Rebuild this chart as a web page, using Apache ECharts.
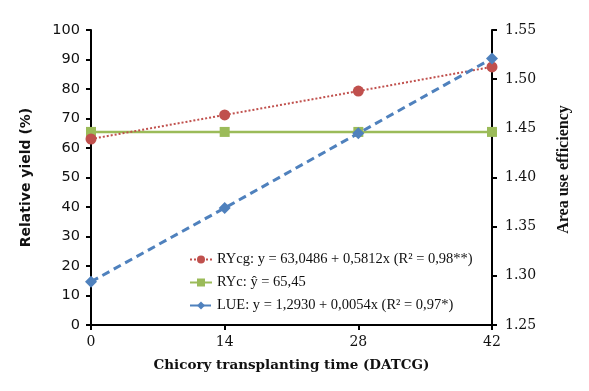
<!DOCTYPE html>
<html><head><meta charset="utf-8">
<script src="https://cdn.jsdelivr.net/npm/echarts@6/dist/echarts.min.js"></script>
<style>html,body{margin:0;padding:0;background:#fff}#c{width:589px;height:391px}</style>
</head><body><div id="c"></div>
<script>
const days = [0, 14, 28, 42];
const ryCg = [63.05, 71.2, 79.3, 87.5];
const ryC = [65.45, 65.45, 65.45, 65.45];
const lue = [1.294, 1.369, 1.445, 1.521];
const names = ['RYcg: y = 63,0486 + 0,5812x (R² = 0,98**)', 'RYc: ŷ = 65,45', 'LUE: y = 1,2930 + 0,0054x (R² = 0,97*)'];
const serif = 'DejaVu Serif';
const times = 'Liberation Serif';
const sans = 'DejaVu Sans';
const chart = echarts.init(document.getElementById('c'));
chart.setOption({
  animation: false,
  grid: {left: 91, right: 97, top: 30, bottom: 66},
  legend: {
    orient: 'vertical', left: 184, top: 247, itemGap: 8, itemWidth: 22, itemHeight: 10,
    textStyle: {fontFamily: times, fontSize: 14.5, color: '#111'},
    data: names
  },
  xAxis: {
    type: 'value', min: 0, max: 42, interval: 14,
    name: 'Chicory transplanting time (DATCG)', nameLocation: 'middle', nameGap: 33,
    nameTextStyle: {fontFamily: serif, fontSize: 13.5, fontWeight: 'bold', color: '#111'},
    axisLine: {lineStyle: {color: '#000', width: 2}},
    axisTick: {show: true, length: 5, lineStyle: {color: '#000', width: 2}},
    axisLabel: {fontFamily: serif, fontSize: 14, color: '#111', margin: 10},
    splitLine: {show: false}
  },
  yAxis: [{
    type: 'value', min: 0, max: 100, interval: 10,
    name: 'Relative yield (%)', nameLocation: 'middle', nameGap: 58, nameRotate: 90,
    nameTextStyle: {fontFamily: sans, fontSize: 14, fontWeight: 'bold', color: '#111'},
    axisLine: {show: true, lineStyle: {color: '#000', width: 2}},
    axisTick: {show: true, length: 5, lineStyle: {color: '#000', width: 2}},
    axisLabel: {fontFamily: sans, fontSize: 14.5, color: '#111', margin: 11},
    splitLine: {show: false}
  }, {
    type: 'value', min: 1.25, max: 1.55, interval: 0.05, position: 'right',
    name: 'Area use efficiency', nameLocation: 'middle', nameGap: 64, nameRotate: 90,
    nameTextStyle: {fontFamily: times, fontSize: 16, fontWeight: 'bold', color: '#111', padding: [0, 0, 0, 16]},
    axisLine: {show: true, lineStyle: {color: '#000', width: 2}},
    axisTick: {show: true, length: 5, lineStyle: {color: '#000', width: 2}},
    axisLabel: {fontFamily: serif, fontSize: 14, color: '#111', margin: 13, formatter: v => v.toFixed(2)},
    splitLine: {show: false}
  }],
  series: [{
    name: names[0], type: 'line', yAxisIndex: 0,
    data: days.map((d, i) => [d, ryCg[i]]),
    symbol: 'circle', symbolSize: 11,
    itemStyle: {color: '#C0504D'},
    lineStyle: {color: '#C0504D', width: 2, type: 'dotted'}, z: 4
  }, {
    name: names[1], type: 'line', yAxisIndex: 0,
    data: days.map((d, i) => [d, ryC[i]]),
    symbol: 'rect', symbolSize: 10,
    itemStyle: {color: '#9BBB59'},
    lineStyle: {color: '#9BBB59', width: 2.5}, z: 3
  }, {
    name: names[2], type: 'line', yAxisIndex: 1,
    data: days.map((d, i) => [d, lue[i]]),
    symbol: 'diamond', symbolSize: 12,
    itemStyle: {color: '#4F81BD'},
    lineStyle: {color: '#4F81BD', width: 3, type: [8, 5]}, z: 5
  }]
});
</script></body></html>
